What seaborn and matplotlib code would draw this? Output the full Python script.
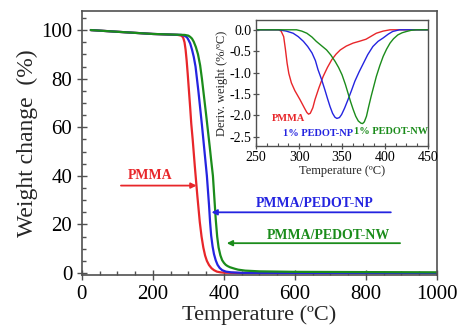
import numpy as np
import pandas as pd
import matplotlib
matplotlib.use("Agg")
import matplotlib.pyplot as plt
import seaborn as sns
from matplotlib.ticker import MultipleLocator

# TGA curves (weight %)
t_pmma = [25, 100, 200, 270, 280, 285, 289, 292, 295, 298, 301, 305, 308, 312, 318, 325, 332, 337, 342,
          347, 352, 358, 365, 372, 380, 390, 400, 450, 1000]
w_pmma = [100, 99.3, 98.4, 98, 97.7, 97, 95, 92, 87.5, 82, 76, 68, 61.5, 55, 44, 32, 21, 15, 10.5,
          7.2, 5, 3.3, 2.0, 1.2, 0.6, 0.3, 0.15, 0, 0]
t_np = [25, 100, 200, 280, 290, 296, 300, 305, 310, 315, 320, 324, 328, 333, 338, 342, 347, 352, 355,
        358, 361, 364, 368, 372, 377, 382, 388, 395, 405, 420, 450, 1000]
w_np = [100, 99.3, 98.4, 98, 97.6, 97, 96, 94.5, 92, 89, 85, 80, 75, 68, 61, 55, 47.5, 40, 34,
        28, 21, 15.5, 11, 7.8, 5.2, 3.4, 2.1, 1.2, 0.6, 0.3, 0.1, 0]
t_nw = [25, 100, 200, 290, 300, 305, 310, 315, 321, 327, 333, 338, 344, 350, 355, 360, 364, 369, 373,
        377, 381, 385, 390, 395, 400, 405, 410, 417, 430, 440, 460, 500, 600, 800, 1000]
w_nw = [100, 99.3, 98.4, 98, 97.7, 97.2, 96.5, 95.2, 93, 90, 85.5, 80, 72.5, 65, 58.5, 52, 46.5, 40, 31,
        22, 15, 10.5, 7.3, 5.3, 4.2, 3.4, 2.9, 2.4, 1.8, 1.4, 1.0, 0.7, 0.5, 0.4, 0.3]

# DTG curves (inset)
dt_pmma = [250, 276, 279, 282, 284, 286, 288, 291, 295, 301, 306, 309, 311, 313, 316, 318.5, 323, 328,
           333, 338, 343, 348, 355, 363, 370, 378, 384, 390, 398, 406, 450]
dw_pmma = [0, 0, -0.03, -0.16, -0.45, -0.78, -1.02, -1.24, -1.42, -1.63, -1.82, -1.93, -1.97, -1.95,
           -1.82, -1.63, -1.36, -1.09, -0.88, -0.70, -0.57, -0.47, -0.38, -0.31, -0.27, -0.22, -0.15,
           -0.08, -0.03, 0, 0]
dt_np = [250, 276, 285, 293, 299, 305, 310, 315, 319, 322, 326, 330, 333, 336, 339, 341.7, 344, 347,
         349.5, 353, 357, 361, 365, 370, 375, 380, 386, 392, 398, 404, 409, 417, 450]
dw_np = [0, 0, -0.03, -0.08, -0.16, -0.27, -0.39, -0.54, -0.72, -0.93, -1.15, -1.40, -1.60, -1.79,
         -1.95, -2.04, -2.07, -2.05, -1.98, -1.83, -1.63, -1.42, -1.20, -0.98, -0.78, -0.58, -0.39,
         -0.27, -0.19, -0.10, -0.04, 0, 0]
dt_nw = [250, 297, 303, 309, 315, 320, 326, 332, 337, 342, 346, 350, 354, 357, 360, 363, 366, 369, 372,
         374, 376, 378.5, 381, 384, 387, 390, 394, 398, 402, 406, 410, 415, 420, 425, 431, 437, 450]
dw_nw = [0, 0, -0.03, -0.08, -0.17, -0.27, -0.37, -0.47, -0.59, -0.74, -0.88, -1.05, -1.28, -1.48,
         -1.68, -1.86, -2.02, -2.13, -2.18, -2.19, -2.15, -2.02, -1.80, -1.55, -1.32, -1.09, -0.84,
         -0.62, -0.45, -0.31, -0.21, -0.12, -0.07, -0.04, -0.01, 0, 0]

RED, BLUE, GREEN = "#e8262a", "#2424e0", "#1b8c1b"
SPINE = "#505050"

sns.set_style("ticks")
plt.rcParams["font.family"] = ["Liberation Serif", "DejaVu Serif"]

fig = plt.figure(figsize=(4.6, 3.27), dpi=100)
ax = fig.add_axes([0.178, 0.159, 0.772, 0.807])

for t, w, c in [(t_pmma, w_pmma, RED), (t_np, w_np, BLUE), (t_nw, w_nw, GREEN)]:
    sns.lineplot(x=t, y=w, color=c, lw=1.6, ax=ax, sort=False)

ax.set_xlim(0, 1000)
ax.set_ylim(-0.8, 107.8)
ax.set_xticks([0, 200, 400, 600, 800, 1000])
ax.set_yticks([0, 20, 40, 60, 80, 100])
ax.xaxis.set_minor_locator(MultipleLocator(50))
ax.yaxis.set_minor_locator(MultipleLocator(5))
ax.tick_params(which="major", direction="inout", length=7, width=1, colors=SPINE, labelsize=15, labelcolor="black")
ax.tick_params(which="minor", direction="in", length=3, width=1, colors=SPINE)
for s in ax.spines.values():
    s.set_color(SPINE)
    s.set_linewidth(1.2)
ax.set_xlabel("Temperature (ºC)", fontsize=16, labelpad=1)
ax.set_ylabel("Weight change  (%)", fontsize=17, labelpad=2)

# annotations
ax.text(191, 40, "PMMA", color=RED, fontsize=10, fontweight="bold", ha="center", va="center")
ax.annotate("", xy=(323, 36), xytext=(110, 36),
            arrowprops=dict(arrowstyle="-|>", color=RED, lw=1.3, mutation_scale=8, shrinkA=0, shrinkB=0))
ax.text(656, 28.8, "PMMA/PEDOT-NP", color=BLUE, fontsize=10, fontweight="bold", ha="center", va="center")
ax.annotate("", xy=(365, 25), xytext=(870, 25),
            arrowprops=dict(arrowstyle="-|>", color=BLUE, lw=1.3, mutation_scale=8, shrinkA=0, shrinkB=0))
ax.text(693, 15.6, "PMMA/PEDOT-NW", color=GREEN, fontsize=10, fontweight="bold", ha="center", va="center")
ax.annotate("", xy=(408, 12.3), xytext=(896, 12.3),
            arrowprops=dict(arrowstyle="-|>", color=GREEN, lw=1.3, mutation_scale=8, shrinkA=0, shrinkB=0))

# inset DTG
ins = fig.add_axes([0.557, 0.554, 0.373, 0.385])
for t, w, c in [(dt_pmma, dw_pmma, RED), (dt_np, dw_np, BLUE), (dt_nw, dw_nw, GREEN)]:
    sns.lineplot(x=t, y=w, color=c, lw=1.0, ax=ins, sort=False)
ins.set_xlim(250, 450)
ins.set_ylim(-2.71, 0.23)
ins.set_xticks([250, 300, 350, 400, 450])
ins.set_yticks([0.0, -0.5, -1.0, -1.5, -2.0, -2.5])
ins.set_yticklabels(["0.0", "-0.5", "-1.0", "-1.5", "-2.0", "-2.5"])
ins.xaxis.set_minor_locator(MultipleLocator(12.5))
ins.tick_params(which="major", direction="inout", length=5, width=0.9, colors=SPINE, labelsize=10, labelcolor="black", pad=1)
ins.tick_params(which="minor", direction="in", length=2, width=0.8, colors=SPINE)
for s in ins.spines.values():
    s.set_color(SPINE)
    s.set_linewidth(1.0)
ins.set_xlabel("Temperature (ºC)", fontsize=9, labelpad=1)
ins.set_ylabel("Deriv. weight (%/ºC)", fontsize=9, labelpad=1)
ins.text(287.5, -2.08, "PMMA", color=RED, fontsize=7.5, fontweight="bold", ha="center", va="center")
ins.text(322, -2.42, "1% PEDOT-NP", color=BLUE, fontsize=7.5, fontweight="bold", ha="center", va="center")
ins.text(407.5, -2.37, "1% PEDOT-NW", color=GREEN, fontsize=7.5, fontweight="bold", ha="center", va="center")

fig.savefig("out.png", dpi=100)
